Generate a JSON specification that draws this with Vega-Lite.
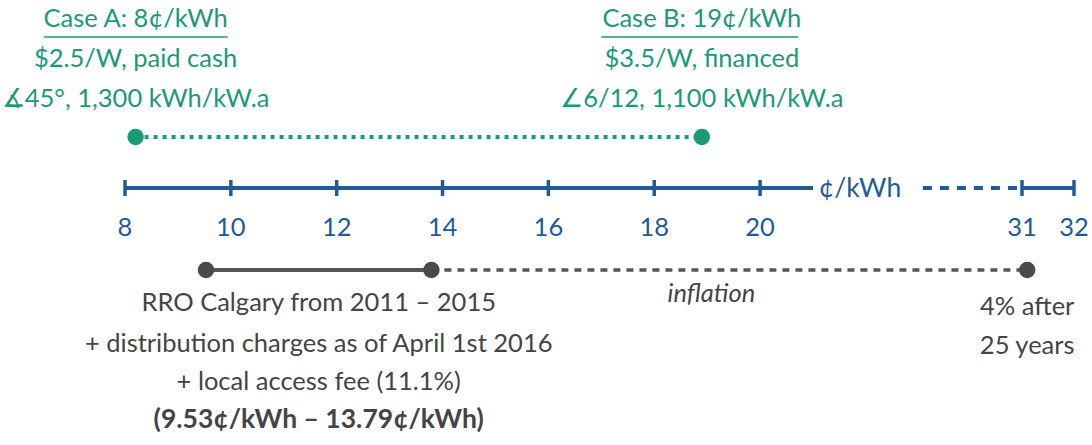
{
  "$schema": "https://vega.github.io/schema/vega-lite/v6.json",
  "width": 1092,
  "height": 445,
  "padding": 0,
  "autosize": {"type": "none"},
  "background": "white",
  "view": {"stroke": null},
  "config": {"font": "Lato"},
  "encoding": {
    "x": {"type": "quantitative", "scale": {"domain": [8, 21, 31, 32], "range": [125, 813, 1022, 1074], "clamp": false, "nice": false, "zero": false}, "axis": null},
    "y": {"type": "quantitative", "scale": {"domain": [0, 445], "reverse": true, "nice": false, "zero": false}, "axis": null}
  },
  "layer": [
    {
      "data": {"values": [{"x": 8.2, "x2": 18.9, "y": 137}]},
      "mark": {"type": "rule", "color": "#1a9a76", "strokeWidth": 4, "strokeDash": [4, 5]},
      "encoding": {"x": {"field": "x", "type": "quantitative"}, "x2": {"field": "x2"}, "y": {"field": "y", "type": "quantitative"}}
    },
    {
      "data": {"values": [{"x": 8.2, "y": 137}, {"x": 18.9, "y": 137}]},
      "mark": {"type": "circle", "color": "#1a9a76", "size": 270, "opacity": 1},
      "encoding": {"x": {"field": "x", "type": "quantitative"}, "y": {"field": "y", "type": "quantitative"}}
    },
    {
      "data": {"values": [{"x": 6.47, "x2": 9.94, "y": 37}, {"x": 17.0, "x2": 20.72, "y": 37}]},
      "mark": {"type": "rule", "color": "#1a9a76", "strokeWidth": 1.5},
      "encoding": {"x": {"field": "x", "type": "quantitative"}, "x2": {"field": "x2"}, "y": {"field": "y", "type": "quantitative"}}
    },
    {
      "data": {"values": [
        {"x": 8.2, "y": 19, "label": "Case A: 8¢/kWh"},
        {"x": 8.2, "y": 59, "label": "$2.5/W, paid cash"},
        {"x": 8.2, "y": 99, "label": "∡45°, 1,300 kWh/kW.a"},
        {"x": 18.9, "y": 19, "label": "Case B: 19¢/kWh"},
        {"x": 18.9, "y": 59, "label": "$3.5/W, financed"},
        {"x": 18.9, "y": 99, "label": "∠6/12, 1,100 kWh/kW.a"}
      ]},
      "mark": {"type": "text", "color": "#1a9a76", "fontSize": 25.5, "baseline": "middle", "align": "center"},
      "encoding": {"x": {"field": "x", "type": "quantitative"}, "y": {"field": "y", "type": "quantitative"}, "text": {"field": "label"}}
    },
    {
      "data": {"values": [{"x": 8, "x2": 21, "y": 188}, {"x": 31, "x2": 32, "y": 188}]},
      "mark": {"type": "rule", "color": "#1f5b99", "strokeWidth": 4},
      "encoding": {"x": {"field": "x", "type": "quantitative"}, "x2": {"field": "x2"}, "y": {"field": "y", "type": "quantitative"}}
    },
    {
      "data": {"values": [{"x": 26.26, "x2": 30.8, "y": 188}]},
      "mark": {"type": "rule", "color": "#1f5b99", "strokeWidth": 4, "strokeDash": [9, 8]},
      "encoding": {"x": {"field": "x", "type": "quantitative"}, "x2": {"field": "x2"}, "y": {"field": "y", "type": "quantitative"}}
    },
    {
      "data": {"values": [
        {"x": 8, "label": "8"}, {"x": 10, "label": "10"}, {"x": 12, "label": "12"}, {"x": 14, "label": "14"},
        {"x": 16, "label": "16"}, {"x": 18, "label": "18"}, {"x": 20, "label": "20"}, {"x": 31, "label": "31"}, {"x": 32, "label": "32"}
      ]},
      "layer": [
        {
          "mark": {"type": "rule", "color": "#1f5b99", "strokeWidth": 3.5},
          "encoding": {"x": {"field": "x", "type": "quantitative"}, "y": {"datum": 180}, "y2": {"datum": 196}}
        },
        {
          "mark": {"type": "text", "color": "#1f5b99", "fontSize": 25.5, "baseline": "middle", "align": "center"},
          "encoding": {"x": {"field": "x", "type": "quantitative"}, "y": {"datum": 228}, "text": {"field": "label"}}
        }
      ]
    },
    {
      "data": {"values": [{"x": 23.25, "y": 189, "label": "¢/kWh"}]},
      "mark": {"type": "text", "color": "#1f5b99", "fontSize": 26.5, "baseline": "middle", "align": "center"},
      "encoding": {"x": {"field": "x", "type": "quantitative"}, "y": {"field": "y", "type": "quantitative"}, "text": {"field": "label"}}
    },
    {
      "data": {"values": [{"x": 9.53, "x2": 13.79, "y": 270}]},
      "mark": {"type": "rule", "color": "#555555", "strokeWidth": 4},
      "encoding": {"x": {"field": "x", "type": "quantitative"}, "x2": {"field": "x2"}, "y": {"field": "y", "type": "quantitative"}}
    },
    {
      "data": {"values": [{"x": 13.79, "x2": 31.1, "y": 270}]},
      "mark": {"type": "rule", "color": "#555555", "strokeWidth": 3.5, "strokeDash": [7, 6]},
      "encoding": {"x": {"field": "x", "type": "quantitative"}, "x2": {"field": "x2"}, "y": {"field": "y", "type": "quantitative"}}
    },
    {
      "data": {"values": [{"x": 9.53, "y": 270}, {"x": 13.79, "y": 270}, {"x": 31.1, "y": 270}]},
      "mark": {"type": "circle", "color": "#4a4a4a", "size": 270, "opacity": 1},
      "encoding": {"x": {"field": "x", "type": "quantitative"}, "y": {"field": "y", "type": "quantitative"}}
    },
    {
      "data": {"values": [
        {"x": 11.66, "y": 303, "label": "RRO Calgary from 2011 – 2015"},
        {"x": 11.66, "y": 344, "label": "+ distribution charges as of April 1st 2016"},
        {"x": 11.66, "y": 382, "label": "+ local access fee (11.1%)"},
        {"x": 31.1, "y": 307, "label": "4% after"},
        {"x": 31.1, "y": 346, "label": "25 years"}
      ]},
      "mark": {"type": "text", "color": "#444444", "fontSize": 25.5, "baseline": "middle", "align": "center"},
      "encoding": {"x": {"field": "x", "type": "quantitative"}, "y": {"field": "y", "type": "quantitative"}, "text": {"field": "label"}}
    },
    {
      "data": {"values": [{"x": 11.66, "y": 420, "label": "(9.53¢/kWh – 13.79¢/kWh)"}]},
      "mark": {"type": "text", "color": "#444444", "fontSize": 26.5, "fontWeight": "bold", "baseline": "middle", "align": "center"},
      "encoding": {"x": {"field": "x", "type": "quantitative"}, "y": {"field": "y", "type": "quantitative"}, "text": {"field": "label"}}
    },
    {
      "data": {"values": [{"x": 19.08, "y": 294, "label": "inflation"}]},
      "mark": {"type": "text", "color": "#444444", "fontSize": 25.5, "fontStyle": "italic", "baseline": "middle", "align": "center"},
      "encoding": {"x": {"field": "x", "type": "quantitative"}, "y": {"field": "y", "type": "quantitative"}, "text": {"field": "label"}}
    }
  ]
}
